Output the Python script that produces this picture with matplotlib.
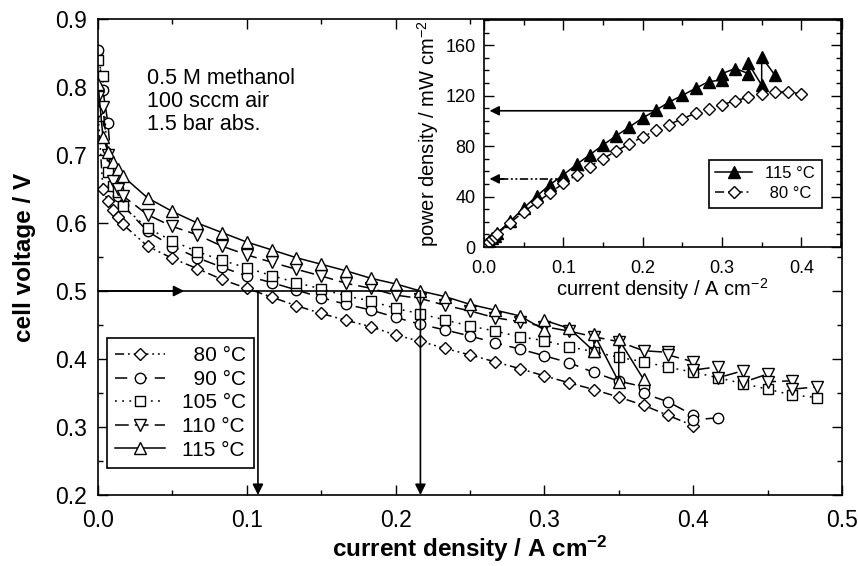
import matplotlib
matplotlib.use('Agg')
import matplotlib.pyplot as plt
from matplotlib.ticker import MultipleLocator, FormatStrFormatter

plt.rcParams['font.family'] = 'Liberation Sans'
plt.rcParams['mathtext.fontset'] = 'custom'
plt.rcParams['mathtext.rm'] = 'Liberation Sans'
plt.rcParams['mathtext.bf'] = 'Liberation Sans:bold'
plt.rcParams['mathtext.default'] = 'regular'

# current density steps (A cm-2)
i_low = [0.0, 0.0033, 0.0067, 0.01, 0.0133, 0.0167]
i_grid = [0.0333, 0.05, 0.0667, 0.0833, 0.1, 0.1167, 0.1333, 0.15, 0.1667, 0.1833,
          0.2, 0.2167, 0.2333, 0.25, 0.2667, 0.2833, 0.3, 0.3167, 0.3333, 0.35,
          0.3667, 0.3833, 0.4, 0.4167, 0.4333, 0.45, 0.4667, 0.4833]

# cell voltage curves (V)
i_80 = i_low + i_grid[:23]
v_80 = [0.765, 0.650, 0.632, 0.619, 0.609, 0.598,
        0.566, 0.548, 0.533, 0.517, 0.504, 0.491, 0.4785, 0.467, 0.457, 0.4476,
        0.4353, 0.426, 0.4156, 0.406, 0.396, 0.386, 0.3752, 0.365, 0.355, 0.344,
        0.332, 0.317, 0.302]

i_90 = i_low + i_grid[:20] + [0.3667, 0.3667, 0.3833, 0.4, 0.4, 0.4167]
v_90 = [0.855, 0.795, 0.747, 0.655, 0.640, 0.626,
        0.588, 0.5654, 0.549, 0.535, 0.522, 0.5124, 0.5016, 0.4903, 0.4804, 0.4722,
        0.4613, 0.451, 0.4427, 0.4339, 0.424, 0.4147, 0.4048, 0.3945, 0.3802, 0.3675,
        0.3591, 0.3493, 0.337, 0.3174, 0.3106, 0.3135]

i_105 = i_low + i_grid
v_105 = [0.840, 0.816, 0.675, 0.655, 0.645, 0.625,
         0.5924, 0.5738, 0.558, 0.5452, 0.534, 0.5227, 0.5124, 0.5031, 0.4928, 0.4854,
         0.4745, 0.4665, 0.4574, 0.4486, 0.4412, 0.4328, 0.427, 0.418, 0.4107, 0.4025,
         0.396, 0.3878, 0.3807, 0.3725, 0.364, 0.3557, 0.347, 0.3434]

i_110 = i_low + i_grid[:20] + [0.3667, 0.3833, 0.3833, 0.4, 0.4, 0.4167, 0.4167,
                               0.4333, 0.4333, 0.45, 0.45, 0.4667, 0.4667, 0.4833]
v_110 = [0.785, 0.770, 0.700, 0.662, 0.650, 0.640,
         0.6122, 0.5949, 0.5827, 0.566, 0.5532, 0.5423, 0.532, 0.5222, 0.5114, 0.504,
         0.494, 0.489, 0.479, 0.4707, 0.4608, 0.455, 0.4476, 0.441, 0.4328, 0.4255,
         0.4122, 0.4098, 0.4059, 0.396, 0.3837, 0.3886, 0.3724, 0.3827, 0.3655,
         0.3779, 0.3665, 0.368, 0.3557, 0.3591]

i_115 = i_low + i_grid[:16] + [0.3, 0.3, 0.3167, 0.3333, 0.3333, 0.35, 0.35, 0.3667]
v_115 = [0.805, 0.727, 0.705, 0.690, 0.679, 0.669,
         0.637, 0.617, 0.600, 0.586, 0.572, 0.5606, 0.549, 0.5394, 0.5297, 0.5188,
         0.5105, 0.500, 0.4918, 0.4804, 0.472, 0.4636,
         0.443, 0.457, 0.445, 0.4115, 0.437, 0.3665, 0.429, 0.370]

# inset: power density (mW cm-2)
p_80 = [0, 2.2, 4.3, 6.2, 8.1, 10.5,
        19.3, 28, 35.3, 43, 50.4, 57.2, 63.7, 70.1, 76, 81.8, 87.3, 92.5, 97.1,
        101.7, 106, 109.6, 112.8, 116, 118.7, 121, 123, 122.8, 121.5]
p_115 = [0, 2.4, 4.7, 6.9, 9.0, 11.2,
         20.5, 30.9, 40.5, 49.5, 57.2, 65.5, 73.1, 80.9, 88.2, 95.2, 102.3, 108.4,
         114.9, 120.2, 125.8, 131.2,
         132.3, 137.5, 141.5, 137.5, 145.5, 128.3, 150.7, 136.2]

# 0.5 V reference arrows
v_ref = 0.5
i_ref80 = 0.1075
i_ref115 = 0.2167
p_ref80 = 54
p_ref115 = 108

fig = plt.figure(figsize=(8.58, 5.66), dpi=100)
ax = fig.add_axes([0.1142, 0.1254, 0.8671, 0.841])

lw = 1.1
ax.plot(i_80, v_80, color='black', lw=lw, ls=(0, (6, 2.5, 1.2, 2.5, 1.2, 2.5)),
        marker='D', ms=6.5, mfc='white', mec='black', mew=1.0, label='  80 °C')
ax.plot(i_90, v_90, color='black', lw=lw, ls=(0, (8, 5)),
        marker='o', ms=7.5, mfc='white', mec='black', mew=1.0, label='  90 °C')
ax.plot(i_105, v_105, color='black', lw=lw, ls=(0, (1.2, 3.5)),
        marker='s', ms=6.5, mfc='white', mec='black', mew=1.0, label='105 °C')
ax.plot(i_110, v_110, color='black', lw=lw, ls=(0, (9, 4)),
        marker='v', ms=8.5, mfc='white', mec='black', mew=1.0, label='110 °C')
ax.plot(i_115, v_115, color='black', lw=lw, ls='-',
        marker='^', ms=8.5, mfc='white', mec='black', mew=1.0, label='115 °C')

# arrows at 0.5 V
ax.plot([0, i_ref115], [v_ref, v_ref], color='black', lw=1.2)
ax.annotate('', xy=(0.058, v_ref), xytext=(0.0, v_ref),
            arrowprops=dict(arrowstyle='-|>', color='black', lw=1.2,
                            mutation_scale=16, shrinkA=0, shrinkB=0))
for i_ref in [i_ref80, i_ref115]:
    ax.annotate('', xy=(i_ref, 0.2), xytext=(i_ref, v_ref),
                arrowprops=dict(arrowstyle='-|>', color='black', lw=1.2,
                                mutation_scale=16, shrinkA=0, shrinkB=0))

ax.text(0.066, 0.876, '0.5 M methanol', transform=ax.transAxes, fontsize=15.5, va='center')
ax.text(0.066, 0.827, '100 sccm air', transform=ax.transAxes, fontsize=15.5, va='center')
ax.text(0.066, 0.779, '1.5 bar abs.', transform=ax.transAxes, fontsize=15.5, va='center')

ax.set_xlim(0, 0.5)
ax.set_ylim(0.2, 0.9)
ax.xaxis.set_major_locator(MultipleLocator(0.1))
ax.xaxis.set_minor_locator(MultipleLocator(0.05))
ax.yaxis.set_major_locator(MultipleLocator(0.1))
ax.yaxis.set_minor_locator(MultipleLocator(0.05))
ax.xaxis.set_major_formatter(FormatStrFormatter('%.1f'))
ax.yaxis.set_major_formatter(FormatStrFormatter('%.1f'))
ax.tick_params(which='both', direction='in', top=True, right=True, width=1.0, labelsize=16.5)
ax.tick_params(which='major', length=7)
ax.tick_params(which='minor', length=3.5)
ax.tick_params(axis='x', pad=10)
ax.tick_params(axis='y', pad=8)
for sp in ax.spines.values():
    sp.set_linewidth(1.2)
ax.set_xlabel(r'current density / A cm$^{\mathbf{-2}}$', fontsize=17.5, fontweight='bold', labelpad=1)
ax.set_ylabel('cell voltage / V', fontsize=17.5, fontweight='bold', labelpad=14)

leg = ax.legend(loc='lower left', bbox_to_anchor=(0.012, 0.057), borderaxespad=0,
                frameon=True, fancybox=False, edgecolor='black', framealpha=1,
                fontsize=15, handlelength=2.4, labelspacing=0.22, borderpad=0.4,
                handletextpad=0.8)
leg.get_frame().set_linewidth(1.2)

# inset: power density
ax_in = fig.add_axes([0.5641, 0.5636, 0.4161, 0.4011])
ax_in.set_facecolor('white')
ax_in.plot(i_115, p_115, color='black', lw=lw, ls='-', marker='^', ms=8,
           mfc='black', mec='black', label='115 °C')
ax_in.plot(i_80, p_80, color='black', lw=lw, ls=(0, (6, 2.5, 1.2, 2.5)),
           marker='D', ms=6.5, mfc='white', mec='black', mew=1.0, label=' 80 °C')

ax_in.annotate('', xy=(0.007, p_ref115), xytext=(0.213, p_ref115),
               arrowprops=dict(arrowstyle='-|>', color='black', lw=1.2,
                               mutation_scale=14, shrinkA=0, shrinkB=0))
ax_in.plot([0.02, 0.092], [p_ref80, p_ref80], color='black', lw=1.2,
           ls=(0, (5, 1.5, 1.2, 1.5, 1.2, 1.5)))
ax_in.annotate('', xy=(0.007, p_ref80), xytext=(0.025, p_ref80),
               arrowprops=dict(arrowstyle='-|>', color='black', lw=1.2,
                               mutation_scale=14, shrinkA=0, shrinkB=0))

ax_in.set_xlim(0, 0.45)
ax_in.set_ylim(0, 180)
ax_in.xaxis.set_major_locator(MultipleLocator(0.1))
ax_in.xaxis.set_minor_locator(MultipleLocator(0.05))
ax_in.yaxis.set_major_locator(MultipleLocator(40))
ax_in.yaxis.set_minor_locator(MultipleLocator(10))
ax_in.xaxis.set_major_formatter(FormatStrFormatter('%.1f'))
ax_in.tick_params(which='both', direction='in', top=True, right=True, width=1.0, labelsize=13)
ax_in.tick_params(which='major', length=7)
ax_in.tick_params(which='minor', length=3.5)
ax_in.tick_params(axis='x', pad=9)
ax_in.tick_params(axis='y', pad=6)
for sp in ax_in.spines.values():
    sp.set_linewidth(1.2)
ax_in.set_xlabel(r'current density / A cm$^{-2}$', fontsize=14.5, labelpad=0)
ax_in.set_ylabel(r'power density / mW cm$^{-2}$', fontsize=14.5, labelpad=3)

leg_in = ax_in.legend(loc='lower right', bbox_to_anchor=(0.946, 0.172), borderaxespad=0,
                      frameon=True, fancybox=False, edgecolor='black', framealpha=1,
                      fontsize=12, handlelength=2.2, labelspacing=0.3, borderpad=0.4,
                      handletextpad=0.8)
leg_in.get_frame().set_linewidth(1.2)

plt.savefig('out.png', dpi=100)
